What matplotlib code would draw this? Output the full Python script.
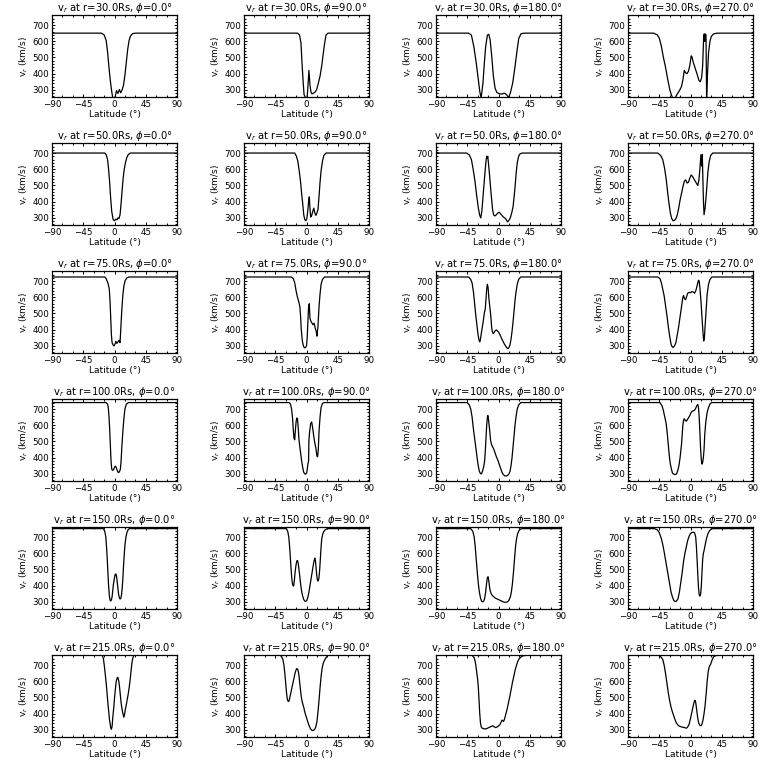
import matplotlib
matplotlib.use("Agg")
import matplotlib.pyplot as plt
from matplotlib.ticker import MultipleLocator

radii = [30.0, 50.0, 75.0, 100.0, 150.0, 215.0]
phis = [0.0, 90.0, 180.0, 270.0]
x_ticks = [-90, -45, 0, 45, 90]
y_ticks = [300, 400, 500, 600, 700]

# ---- r = 30 Rs ----
lat_r30_p0 = [-90, -19, -15, -12, -10, -8, -6, -4, -2.5, 0.5, 3, 5, 7, 9, 11, 13, 15, 17, 19, 21, 23, 26, 30, 90]
v_r30_p0 = [650, 650, 640, 605, 535, 440, 355, 290, 250, 250, 295, 278, 302, 282, 300, 330, 390, 470, 550, 605, 632, 647, 650, 650]
lat_r30_p90 = [-90, -13, -10, -8, -6.5, -5, -3.5, -1, 1, 2.5, 3.5, 5, 6.5, 8, 10, 12, 14.5, 17, 19.5, 22, 24, 26, 28, 31, 90]
v_r30_p90 = [650, 650, 638, 590, 470, 360, 270, 250, 255, 350, 420, 330, 285, 275, 280, 285, 300, 340, 385, 450, 520, 585, 638, 650, 650]
lat_r30_p180 = [-90, -43, -39, -35.5, -32, -29, -27, -25, -22.4, -20.4, -18.5, -16, -14, -12, -9.7, -7.3, -4.9, -2.4, 1, 5, 8.3, 11.7, 14.6, 17, 20.4, 23.8, 26.8, 29.2, 32.6, 37.5, 90]
v_r30_p180 = [650, 650, 638, 567, 464, 362, 290, 250, 341, 464, 567, 638, 643, 608, 505, 382, 310, 284, 276, 274, 280, 270, 252, 280, 341, 444, 546, 618, 647, 650, 650]
lat_r30_p270 = [-90, -53, -48, -45, -42, -39, -36, -33, -30, -28, -26, -22, -19, -16, -13, -11, -9, -7, -5, -3, -1, 1, 2, 4, 7, 10, 12, 14, 16, 17.5, 19, 19.8, 20.5, 21.3, 22.3, 23.2, 24.5, 26, 28, 30, 33, 38, 90]
v_r30_p270 = [650, 650, 640, 620, 570, 500, 440, 370, 305, 275, 252, 252, 275, 295, 320, 360, 420, 405, 400, 415, 450, 510, 505, 470, 430, 390, 360, 350, 375, 450, 630, 645, 600, 645, 640, 255, 400, 530, 600, 630, 645, 650, 650]

# ---- r = 50 Rs ----
lat_r50_p0 = [-90, -14, -12, -10, -8.5, -7, -5.5, -4, -2, 0, 2, 3.5, 5, 6.5, 8, 9.5, 11, 12.5, 14, 16, 18, 20, 23, 90]
v_r50_p0 = [700, 700, 690, 660, 600, 520, 420, 340, 290, 282, 292, 288, 300, 296, 320, 390, 470, 545, 600, 645, 675, 692, 700, 700]
lat_r50_p90 = [-90, -17, -14.5, -12.5, -10.5, -8.5, -7, -5.5, -4, -2.5, -1, 0.5, 2, 3, 4, 5, 6, 7.5, 9, 10.5, 12, 13.5, 15, 16.5, 18, 19.5, 21, 23, 25, 28, 90]
v_r50_p90 = [700, 700, 680, 650, 590, 520, 450, 390, 320, 290, 282, 295, 350, 400, 430, 360, 305, 315, 340, 360, 330, 315, 330, 350, 430, 520, 590, 650, 685, 700, 700]
lat_r50_p180 = [-90, -85, -46, -42, -39, -36.5, -34, -31.5, -29, -27, -25.5, -24, -22.5, -21, -19.5, -18, -17, -16, -15.5, -14.5, -13, -11.5, -10, -8.5, -7, -5, -3, -1, 1, 3, 5, 7, 9, 11, 13, 15, 17, 19, 21, 22.5, 24, 25.5, 27, 29, 31, 34, 90]
v_r50_p180 = [705, 700, 700, 688, 660, 600, 530, 440, 360, 315, 300, 340, 420, 500, 580, 650, 680, 670, 680, 640, 570, 490, 420, 350, 318, 312, 320, 330, 335, 325, 315, 305, 300, 290, 275, 285, 300, 330, 370, 430, 500, 580, 640, 680, 695, 700, 700]
lat_r50_p270 = [-90, -47, -43, -40, -37.5, -35, -33, -31, -29, -27, -25, -23, -21, -19, -17, -15, -13, -11, -9, -7, -5, -3, -1, 1, 3, 5, 7, 9, 10.5, 12, 13.5, 15, 16, 17, 18.5, 19.5, 21, 23, 25, 27, 29, 32, 90]
v_r50_p270 = [700, 700, 685, 660, 610, 540, 460, 390, 330, 295, 282, 285, 295, 320, 360, 410, 450, 490, 525, 535, 515, 520, 545, 565, 555, 540, 525, 510, 500, 530, 600, 690, 620, 690, 420, 320, 360, 460, 580, 650, 685, 700, 700]

# ---- r = 75 Rs ----
lat_r75_p0 = [-90, -14, -12, -10.5, -9, -7.5, -6.5, -5.5, -4.5, -3.5, -2, -0.5, 1, 2, 3.5, 5, 6.5, 8, 9, 10.5, 12, 13.5, 15.5, 18, 21, 90]
v_r75_p0 = [725, 725, 715, 700, 680, 650, 580, 480, 370, 320, 305, 300, 315, 328, 315, 325, 335, 320, 400, 520, 610, 670, 705, 720, 725, 725]
lat_r75_p90 = [-90, -22, -19, -17, -15, -13, -11, -9.5, -8.5, -7.5, -6, -4.5, -3, -1.5, 0, 1, 2, 3, 4, 5, 6.5, 8, 9.5, 11, 12.5, 14, 15, 16.5, 18, 19.5, 21, 23, 26, 90]
v_r75_p90 = [725, 725, 715, 690, 640, 600, 570, 540, 480, 400, 330, 300, 288, 290, 300, 350, 450, 540, 560, 470, 450, 440, 430, 440, 410, 390, 360, 420, 540, 620, 680, 710, 725, 725]
lat_r75_p180 = [-90, -43, -40, -38, -36, -34.5, -33, -31, -29.5, -28, -27, -26, -25, -23.5, -22, -20.5, -19, -18, -17, -16, -15, -14, -12.5, -11, -10, -9, -7.5, -6, -4.5, -3, -1.5, 0, 2, 4, 6, 8, 10, 12, 13.5, 15, 16.5, 18, 19.5, 21, 22.5, 24, 25.5, 27, 29, 32, 90]
v_r75_p180 = [725, 725, 710, 688, 630, 567, 500, 425, 370, 335, 325, 340, 370, 410, 450, 500, 530, 590, 650, 680, 660, 600, 540, 480, 420, 390, 375, 385, 395, 398, 392, 385, 370, 350, 332, 315, 300, 288, 283, 290, 305, 340, 390, 450, 520, 590, 640, 680, 710, 725, 725]
lat_r75_p270 = [-90, -47, -44, -42, -40, -38, -36, -34, -32, -30, -28, -26.5, -25, -23, -21, -19, -17, -15, -13, -11, -10, -8.5, -7, -5.5, -4, -2, 0, 2, 4, 6, 8, 10, 11.5, 12.5, 13.5, 15, 16.5, 18, 19, 20, 21, 22.5, 24, 26, 28, 31, 90]
v_r75_p270 = [725, 725, 715, 690, 650, 610, 550, 490, 420, 360, 310, 295, 290, 300, 320, 370, 420, 480, 540, 600, 610, 590, 585, 605, 625, 630, 628, 635, 632, 625, 645, 680, 705, 700, 660, 580, 480, 380, 330, 350, 420, 520, 620, 680, 710, 725, 725]

# ---- r = 100 Rs ----
lat_r100_p0 = [-90, -12, -10, -9, -8, -7, -6, -5, -4, -3, -1.5, 0, 1, 2.5, 4, 5.5, 7, 8.5, 9.5, 10.5, 12, 13.5, 15, 17, 20, 90]
v_r100_p0 = [740, 740, 730, 710, 660, 580, 480, 380, 330, 322, 325, 340, 348, 340, 320, 308, 312, 330, 380, 460, 560, 640, 700, 730, 740, 740]
lat_r100_p90 = [-90, -25, -23, -21.5, -20, -19, -18, -17, -16, -15, -14, -13, -12, -11, -10, -8.5, -7, -5.5, -4, -2.5, -1, 0.5, 2, 3, 3.5, 4.5, 6, 7.5, 9, 10.5, 12, 13.5, 15, 16, 17, 18, 19.5, 21, 23, 25, 90]
v_r100_p90 = [740, 740, 730, 700, 640, 570, 520, 510, 570, 620, 645, 640, 590, 520, 480, 430, 380, 340, 310, 300, 298, 310, 360, 380, 510, 560, 610, 620, 580, 530, 490, 460, 410, 405, 450, 560, 650, 710, 735, 740, 740]
lat_r100_p180 = [-90, -45, -42, -40, -38, -36.5, -35, -33.5, -32, -30.5, -29, -27.5, -26, -24.5, -23, -21.5, -20, -19, -18, -17, -16, -15.3, -14.5, -13.5, -12.5, -11.5, -10, -8.5, -7, -5, -3, -1, 1, 3, 5, 7, 9, 11, 13, 15, 16.5, 18, 19.5, 21, 22.5, 24, 25.5, 27, 29, 32, 90]
v_r100_p180 = [740, 740, 725, 700, 650, 590, 540, 490, 440, 390, 345, 315, 302, 300, 318, 340, 380, 440, 520, 600, 650, 660, 640, 600, 560, 510, 480, 466, 455, 430, 405, 385, 360, 335, 310, 295, 288, 287, 290, 300, 314, 350, 400, 470, 540, 610, 660, 700, 725, 740, 740]
lat_r100_p270 = [-90, -44, -41, -39, -37, -35, -33.5, -32, -30.5, -29, -27.5, -26, -24, -22, -20, -18, -16.5, -15, -14, -13, -12, -11, -10, -9, -7.5, -6, -4.5, -3, -1, 1, 3, 5, 7, 9, 10.5, 11.5, 12.5, 13.5, 14.5, 15.5, 16.5, 17.5, 18.5, 19.5, 20.5, 22, 24, 26, 28.5, 31, 90]
v_r100_p270 = [740, 740, 720, 690, 650, 610, 550, 480, 410, 360, 330, 305, 298, 296, 300, 325, 355, 400, 440, 480, 540, 600, 630, 640, 630, 625, 635, 645, 660, 680, 688, 690, 700, 720, 728, 710, 650, 560, 460, 390, 360, 370, 400, 450, 540, 620, 680, 710, 735, 740, 740]

# ---- r = 150 Rs ----
lat_r150_p0 = [-90, -16, -14, -12.5, -11.5, -10.5, -9.5, -8.5, -7.5, -6.5, -5.5, -4.5, -3.5, -2.5, -1.5, 0, 1, 2, 3, 4, 5, 6, 7, 8, 9, 10, 11, 12, 13, 14, 15, 16.5, 18, 20, 22, 90]
v_r150_p0 = [752, 752, 735, 700, 640, 570, 480, 400, 340, 312, 305, 312, 330, 370, 410, 450, 470, 472, 455, 420, 380, 345, 325, 318, 320, 340, 380, 440, 520, 590, 650, 700, 730, 748, 752, 752]
lat_r150_p90 = [-90, -29, -27, -25.5, -24.5, -23.5, -22.5, -21.5, -20.5, -19.5, -18.5, -17.5, -16.5, -15, -14, -13, -12, -11, -10, -9, -8, -7, -5.5, -4, -2.5, -1, 0.5, 2, 3.5, 5, 6.5, 8, 9.5, 11, 12, 13, 14, 15, 16, 17, 18, 19, 20, 21, 22, 23.5, 25, 27, 30, 90]
v_r150_p90 = [752, 752, 735, 700, 650, 590, 520, 460, 420, 400, 398, 430, 480, 530, 552, 555, 540, 505, 470, 430, 395, 365, 335, 315, 305, 303, 310, 330, 360, 400, 440, 480, 520, 555, 570, 550, 500, 455, 430, 430, 450, 500, 570, 640, 690, 720, 735, 745, 752, 752]
lat_r150_p180 = [-90, -40, -37, -35, -33.5, -32, -30.5, -29, -27.5, -26, -24.5, -23, -21.5, -20, -18.5, -17, -16, -15, -14, -13, -12, -10.5, -9, -7, -5, -3, -1, 1, 3, 5, 7, 9, 11, 13, 15, 17, 18.5, 20, 21.5, 23, 24.5, 26, 27.5, 29.5, 32, 35, 90]
v_r150_p180 = [752, 752, 735, 700, 640, 560, 480, 410, 360, 325, 305, 300, 303, 320, 360, 420, 450, 455, 430, 395, 370, 350, 340, 332, 325, 320, 316, 312, 308, 304, 300, 298, 298, 300, 310, 330, 360, 410, 480, 560, 640, 690, 720, 740, 750, 752, 752]
lat_r150_p270 = [-90, -52, -48, -45, -42, -40, -38, -36, -34, -32, -30, -28, -26, -24, -22, -20, -18, -16, -14, -12, -10, -8, -6, -4, -2, 0, 2, 4, 6, 7.5, 8.5, 9.5, 10.5, 11.5, 12.5, 13.5, 14.5, 15.5, 16.5, 17.5, 18.5, 19.5, 21, 23, 25, 27.5, 30, 33, 90]
v_r150_p270 = [752, 752, 745, 728, 690, 655, 610, 560, 510, 460, 410, 360, 330, 308, 302, 305, 320, 360, 420, 480, 550, 600, 640, 680, 705, 722, 728, 730, 725, 700, 640, 560, 470, 390, 345, 335, 345, 390, 480, 560, 600, 615, 650, 690, 720, 740, 750, 752, 752]

# ---- r = 215 Rs ----
lat_r215_p0 = [-90, -17.5, -16, -14.5, -12, -9.5, -7.2, -5.5, -4.5, -3.5, -2.4, -1, 0, 1.2, 2.4, 3.6, 4.8, 6, 7.2, 8.4, 9.6, 11, 12, 13.4, 14.5, 15.5, 17, 18.2, 19.5, 20.6, 22, 23, 24, 25, 26.5, 28, 90]
v_r215_p0 = [760, 760, 740, 690, 590, 465, 362, 315, 304, 320, 380, 440, 495, 550, 597, 618, 624, 605, 567, 515, 464, 425, 403, 378, 395, 425, 455, 485, 515, 546, 590, 628, 670, 710, 745, 760, 760]
lat_r215_p90 = [-90, -38, -36, -34, -32.5, -31, -30, -29, -28, -27, -26, -25, -24, -22.5, -21, -19.5, -18, -16.5, -15, -14, -13, -12, -11, -10, -9, -8, -7, -6, -5, -4, -3, -1.5, 0, 1.5, 3, 4.5, 6, 7.5, 9, 10.5, 12, 13.5, 15, 16.5, 18, 19.5, 21, 22.5, 24, 26, 28, 31, 90]
v_r215_p90 = [760, 760, 752, 735, 700, 640, 590, 540, 500, 480, 475, 480, 500, 530, 560, 590, 620, 650, 670, 678, 676, 665, 640, 600, 560, 520, 490, 470, 455, 440, 420, 395, 375, 355, 335, 318, 305, 298, 296, 298, 305, 320, 350, 410, 480, 560, 630, 680, 710, 730, 745, 760, 760]
lat_r215_p180 = [-90, -38, -35, -33, -31.5, -30, -29, -28, -27, -26, -25, -24, -22, -20, -18, -16, -14, -12, -10, -8, -6, -4, -2, 0, 2, 3.5, 5, 6, 7, 8, 9.5, 11, 12.5, 14, 16, 18, 20, 22, 24, 26, 28, 30, 33, 36, 40, 90]
v_r215_p180 = [760, 760, 745, 710, 660, 610, 560, 480, 400, 345, 320, 312, 308, 306, 306, 310, 314, 318, 322, 325, 318, 314, 318, 324, 332, 345, 360, 358, 352, 358, 380, 405, 430, 460, 500, 545, 590, 630, 670, 700, 725, 740, 752, 758, 760, 760]
lat_r215_p270 = [-90, -46, -43, -40, -38, -36, -34, -32, -30, -28, -26, -24, -22, -20, -17, -13, -9, -6, -4, -2, 0, 2, 4, 5.5, 6.5, 7.5, 9, 10.5, 12, 13.5, 15, 16.5, 18, 19.5, 21, 22.5, 24, 25.5, 27, 29, 31, 33, 36, 40, 90]
v_r215_p270 = [760, 760, 752, 735, 700, 650, 590, 530, 480, 440, 410, 385, 360, 340, 325, 318, 315, 310, 318, 335, 370, 410, 450, 475, 482, 470, 420, 370, 340, 328, 325, 335, 360, 400, 450, 520, 600, 660, 690, 705, 730, 750, 758, 760, 760]

curves = [
    [(lat_r30_p0, v_r30_p0), (lat_r30_p90, v_r30_p90), (lat_r30_p180, v_r30_p180), (lat_r30_p270, v_r30_p270)],
    [(lat_r50_p0, v_r50_p0), (lat_r50_p90, v_r50_p90), (lat_r50_p180, v_r50_p180), (lat_r50_p270, v_r50_p270)],
    [(lat_r75_p0, v_r75_p0), (lat_r75_p90, v_r75_p90), (lat_r75_p180, v_r75_p180), (lat_r75_p270, v_r75_p270)],
    [(lat_r100_p0, v_r100_p0), (lat_r100_p90, v_r100_p90), (lat_r100_p180, v_r100_p180), (lat_r100_p270, v_r100_p270)],
    [(lat_r150_p0, v_r150_p0), (lat_r150_p90, v_r150_p90), (lat_r150_p180, v_r150_p180), (lat_r150_p270, v_r150_p270)],
    [(lat_r215_p0, v_r215_p0), (lat_r215_p90, v_r215_p90), (lat_r215_p180, v_r215_p180), (lat_r215_p270, v_r215_p270)],
]

W = 768.0
fig = plt.figure(figsize=(7.68, 7.68), dpi=100)
fs_title = 7.2
fs_tick = 6.3
fs_label = 6.5

for ri, r in enumerate(radii):
    for ci, phi in enumerate(phis):
        left = (52 + 192 * ci) / W
        bottom = 1 - (97 + 128 * ri) / W
        ax = fig.add_axes([left, bottom, 125 / W, 82 / W])
        lat, v = curves[ri][ci]
        ax.plot(lat, v, color="black", lw=0.9, clip_on=True)
        ax.set_xlim(-90, 90)
        ax.set_ylim(256, 762)
        ax.set_xticks(x_ticks)
        ax.set_yticks(y_ticks)
        ax.xaxis.set_minor_locator(MultipleLocator(15))
        ax.yaxis.set_minor_locator(MultipleLocator(20))
        ax.tick_params(which="both", direction="in", top=True, right=True,
                       labelsize=fs_tick, width=0.7, pad=2)
        ax.tick_params(which="major", length=2.4)
        ax.tick_params(which="minor", length=1.2)
        for s in ax.spines.values():
            s.set_linewidth(0.9)
        ax.set_title("v$_r$ at r=%.1fRs, $\\phi$=%.1f°" % (r, phi),
                     fontsize=fs_title, pad=2.5)
        ax.set_xlabel("Latitude (°)", fontsize=fs_label, labelpad=1)
        ax.set_ylabel("v$_r$ (km/s)", fontsize=fs_label, labelpad=2)

fig.savefig("out.png", dpi=100)
